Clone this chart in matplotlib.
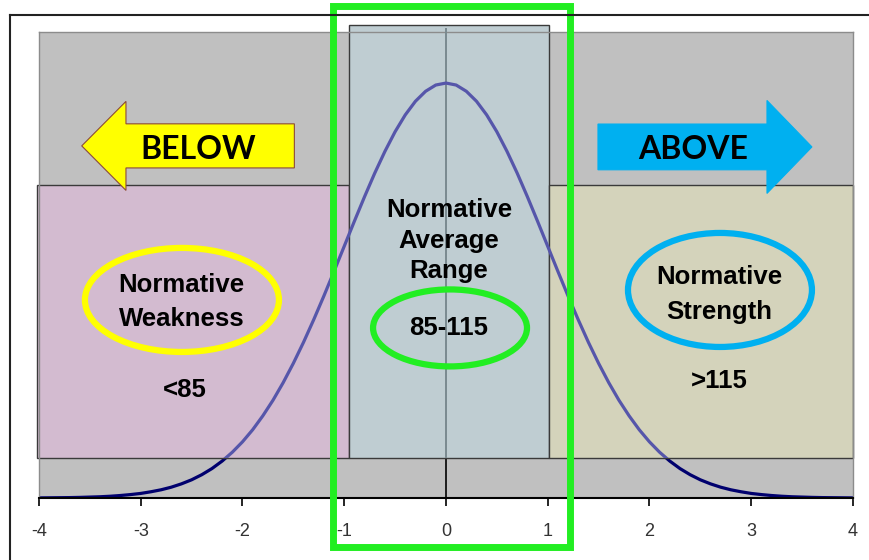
import matplotlib
matplotlib.use("Agg")
import matplotlib.pyplot as plt
import matplotlib.patches as mpatches
from matplotlib.lines import Line2D

plt.rcParams['axes.unicode_minus'] = False

# curve (standard score vs height), right half mirrored by eye
z = [-4.0, -3.9, -3.8, -3.7, -3.6, -3.5, -3.4, -3.3, -3.2, -3.1,
     -3.0, -2.9, -2.8, -2.7, -2.6, -2.5, -2.4, -2.3, -2.2, -2.1,
     -2.0, -1.9, -1.8, -1.7, -1.6, -1.5, -1.4, -1.3, -1.2, -1.1,
     -1.0, -0.9, -0.8, -0.7, -0.6, -0.5, -0.4, -0.3, -0.2, -0.1,
     0.0,
     0.1, 0.2, 0.3, 0.4, 0.5, 0.6, 0.7, 0.8, 0.9, 1.0,
     1.1, 1.2, 1.3, 1.4, 1.5, 1.6, 1.7, 1.8, 1.9, 2.0,
     2.1, 2.2, 2.3, 2.4, 2.5, 2.6, 2.7, 2.8, 2.9, 3.0,
     3.1, 3.2, 3.3, 3.4, 3.5, 3.6, 3.7, 3.8, 3.9, 4.0]
height = [0.0001, 0.0002, 0.0003, 0.0004, 0.0006, 0.0009, 0.0012, 0.0017, 0.0024, 0.0033,
          0.0044, 0.006, 0.0079, 0.0104, 0.0136, 0.0175, 0.0224, 0.0283, 0.0355, 0.044,
          0.054, 0.0656, 0.079, 0.094, 0.1109, 0.1295, 0.1497, 0.1714, 0.1942, 0.2179,
          0.242, 0.2661, 0.2897, 0.3123, 0.3332, 0.3521, 0.3683, 0.3814, 0.391, 0.397,
          0.3989,
          0.397, 0.391, 0.3814, 0.3683, 0.3521, 0.3332, 0.3123, 0.2897, 0.2661, 0.242,
          0.2179, 0.1942, 0.1714, 0.1497, 0.1295, 0.1109, 0.094, 0.079, 0.0656, 0.054,
          0.044, 0.0355, 0.0283, 0.0224, 0.0175, 0.0136, 0.0104, 0.0079, 0.006, 0.0044,
          0.0033, 0.0024, 0.0017, 0.0012, 0.0009, 0.0006, 0.0004, 0.0003, 0.0002, 0.0001]

ticks = [-4, -3, -2, -1, 0, 1, 2, 3, 4]
tick_labels = ["-4", "-3", "-2", "-1", "0", "1", "2", "3", "4"]

# band edges (z) and labels
band_edges = [-4.02, -0.95, 1.01, 4.0]
band_colors = ["#D3BBD0", "#BFCDD2", "#D4D3BB"]
band_tops = [0.301, 0.455, 0.301]
band_bottom = 0.0385
band_titles = ["Normative\nWeakness", "Normative\nAverage\nRange", "Normative\nStrength"]
band_ranges = ["<85", "85-115", ">115"]

fig = plt.figure(figsize=(8.7, 5.6), dpi=100)
ax = fig.add_axes([0.0448, 0.1107, 0.9356, 0.8322])
ax.set_facecolor("#C0C0C0")
ax.set_xlim(-4, 4)
ax.set_ylim(0, 0.448)

# curve: dark where it is on the grey, lighter where it passes over the boxes
ax.plot(z, height, color="#00006E", lw=2.3, zorder=1)
clip = mpatches.Rectangle((-5, band_bottom), 10, 1, transform=ax.transData)
light, = ax.plot(z, height, color="#5656AA", lw=2.3, zorder=4)
light.set_clip_path(clip)

# vertical line at the mean
ax.vlines(0, 0, band_bottom, color="black", lw=1.2, zorder=1)
ax.vlines(0, band_bottom, 0.452, color="#7A8A90", lw=1.4, zorder=3, clip_on=False)

for i in range(3):
    r = mpatches.Rectangle((band_edges[i], band_bottom), band_edges[i + 1] - band_edges[i],
                           band_tops[i] - band_bottom, facecolor=band_colors[i],
                           edgecolor="#3A3A3A", lw=1.0, zorder=2, clip_on=False)
    ax.add_patch(r)

fs = 18.5
# titles and ranges
ax.text(-2.6, 0.1885, band_titles[0], ha="center", va="center", fontsize=fs,
        fontweight="bold", family="Liberation Sans", linespacing=1.55, zorder=6)
ax.text(0.03, 0.2475, band_titles[1], ha="center", va="center", fontsize=fs,
        fontweight="bold", family="Liberation Sans", linespacing=1.35, zorder=6)
ax.text(2.69, 0.1955, band_titles[2], ha="center", va="center", fontsize=fs,
        fontweight="bold", family="Liberation Sans", linespacing=1.55, zorder=6)
ax.text(-2.57, 0.104, band_ranges[0], ha="center", va="center", fontsize=fs,
        fontweight="bold", family="Liberation Sans", zorder=6)
ax.text(0.03, 0.1635, band_ranges[1], ha="center", va="center", fontsize=fs,
        fontweight="bold", family="Liberation Sans", zorder=6)
ax.text(2.69, 0.1125, band_ranges[2], ha="center", va="center", fontsize=fs,
        fontweight="bold", family="Liberation Sans", zorder=6)

# ellipses around labels
ax.add_patch(mpatches.Ellipse((-2.595, 0.1904), 1.907, 0.100, fill=False,
                              edgecolor="#FFFF00", lw=4.5, zorder=5))
ax.add_patch(mpatches.Ellipse((0.04, 0.1635), 1.513, 0.074, fill=False,
                              edgecolor="#22EE22", lw=4.5, zorder=5))
ax.add_patch(mpatches.Ellipse((2.693, 0.200), 1.808, 0.1096, fill=False,
                              edgecolor="#00B0F0", lw=4.5, zorder=5))


def arrow(tip, base, tail, yc, body_h, head_h):
    pts = [(tip, yc), (base, yc + head_h), (base, yc + body_h), (tail, yc + body_h),
           (tail, yc - body_h), (base, yc - body_h), (base, yc - head_h)]
    return pts


ax.add_patch(mpatches.Polygon(arrow(-3.58, -3.145, -1.49, 0.3385, 0.0212, 0.0428),
                              closed=True, facecolor="#FFFF00", edgecolor="#8B4A3A",
                              lw=0.8, zorder=5, clip_on=False))
ax.add_patch(mpatches.Polygon(arrow(3.597, 3.155, 1.494, 0.3375, 0.022, 0.0447),
                              closed=True, facecolor="#00B0F0", edgecolor="#00B0F0",
                              lw=0.8, zorder=5, clip_on=False))
ax.text(-2.44, 0.335, "BELOW", ha="center", va="center", fontsize=23,
        fontweight="bold", family="Lato", zorder=6)
ax.text(2.43, 0.335, "ABOVE", ha="center", va="center", fontsize=23,
        fontweight="bold", family="Lato", zorder=6)

# big green frame round the average band
ax.add_patch(mpatches.Rectangle((-1.11, -0.047), 2.33, 0.52, fill=False,
                                edgecolor="#22EE22", lw=5, zorder=7, clip_on=False))

ax.set_xticks(ticks)
ax.set_xticklabels(tick_labels, fontsize=13, color="#333333", family="Liberation Sans")
ax.tick_params(axis="x", length=6, width=1.2, pad=12, direction="out")
ax.set_yticks([])
ax.spines["bottom"].set_color("black")
ax.spines["bottom"].set_linewidth(1.5)
ax.spines["bottom"].set_zorder(3)
for s in ["top", "left", "right"]:
    ax.spines[s].set_color("#8C8C8C")
    ax.spines[s].set_linewidth(1.0)

# outer chart border (top and left visible)
fig.add_artist(Line2D([0.0115, 1.0], [0.973, 0.973], color="#222222", lw=1.5))
fig.add_artist(Line2D([0.0115, 0.0115], [0.0, 0.973], color="#222222", lw=1.5))

fig.savefig("out.png", dpi=100)
